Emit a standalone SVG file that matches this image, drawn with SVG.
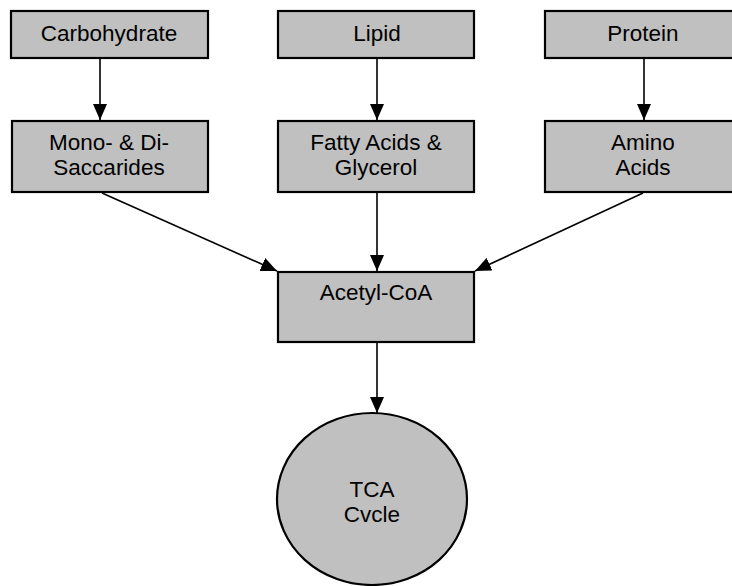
<svg xmlns="http://www.w3.org/2000/svg" width="732" height="586" viewBox="0 0 732 586">
<style>
.box{fill:#c0c0c0;stroke:#000;stroke-width:2.2}
.lbl{font-family:"Liberation Sans",Arial,sans-serif;font-size:22.5px;fill:#000;text-anchor:middle}
.edge{stroke:#000;stroke-width:1.6;fill:none;marker-end:url(#arr)}
</style>
<defs>
<marker id="arr" viewBox="0 0 16 14" refX="16" refY="7" markerWidth="16" markerHeight="14" markerUnits="userSpaceOnUse" orient="auto">
<path d="M0,0 L16,7 L0,14 Z" fill="#000"/>
</marker>
</defs>
<rect width="732" height="586" fill="#fff"/>
<g id="connectors">
<line class="edge" x1="100" y1="58" x2="100" y2="120"/>
<line class="edge" x1="377" y1="58" x2="377" y2="120"/>
<line class="edge" x1="644" y1="58" x2="644" y2="120"/>
<line class="edge" x1="102" y1="193" x2="277" y2="271"/>
<line class="edge" x1="377" y1="192" x2="377" y2="271"/>
<line class="edge" x1="643" y1="193" x2="475" y2="271"/>
<line class="edge" x1="377" y1="342" x2="377" y2="413"/>
</g>
<g id="carbohydrate"><rect class="box" x="11" y="11" width="197" height="47"/><text class="lbl" x="109" y="41">Carbohydrate</text></g>
<g id="lipid"><rect class="box" x="278" y="11" width="196" height="47"/><text class="lbl" x="377" y="41">Lipid</text></g>
<g id="protein"><rect class="box" x="545" y="11" width="197" height="47"/><text class="lbl" x="643" y="41">Protein</text></g>
<g id="saccharides"><rect class="box" x="12" y="121" width="196" height="71"/><text class="lbl" x="109" y="150">Mono- &amp; Di-</text><text class="lbl" x="109" y="175">Saccarides</text></g>
<g id="fattyacids"><rect class="box" x="278" y="121" width="196" height="71"/><text class="lbl" x="376" y="150">Fatty Acids &amp;</text><text class="lbl" x="376" y="175">Glycerol</text></g>
<g id="aminoacids"><rect class="box" x="545" y="121" width="197" height="71"/><text class="lbl" x="643" y="150">Amino</text><text class="lbl" x="643" y="175">Acids</text></g>
<g id="acetylcoa"><rect class="box" x="278" y="272" width="196" height="70"/><text class="lbl" x="376" y="300">Acetyl-CoA</text></g>
<g id="tca"><ellipse class="box" cx="372" cy="499" rx="95" ry="86"/><text class="lbl" x="372" y="497">TCA</text><text class="lbl" x="372" y="522">Cvcle</text></g>
</svg>
